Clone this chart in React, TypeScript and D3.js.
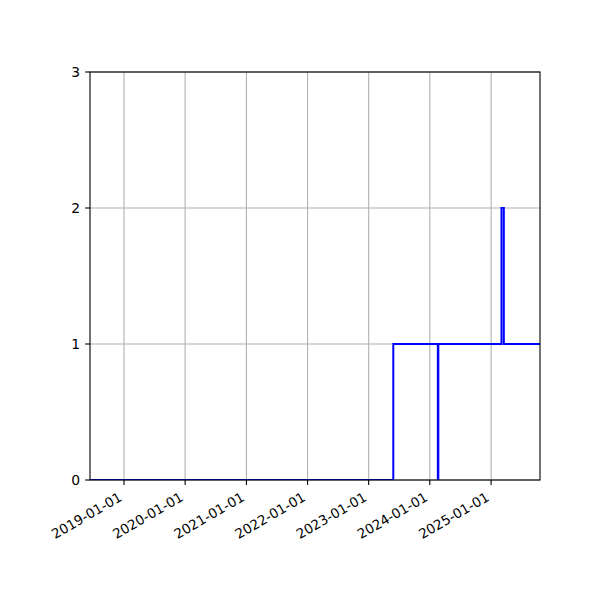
import React, { useEffect, useRef } from "react";
import * as d3 from "d3";

// step changes (value holds until the next date)
const stepDates = ["2018-06-12", "2023-05-28", "2024-02-18", "2024-02-21", "2025-03-04", "2025-03-18", "2025-10-20"];
const stepValues = [0, 1, 0, 1, 2, 1, 1];
const xDomain = ["2018-06-12", "2025-10-20"];
const xTicks = ["2019-01-01", "2020-01-01", "2021-01-01", "2022-01-01", "2023-01-01", "2024-01-01", "2025-01-01"];
const yTicks = [0, 1, 2, 3];

export default function App() {
  const ref = useRef<SVGSVGElement | null>(null);

  useEffect(() => {
    const width = 600, height = 600;
    const margin = { top: 72, right: 60, bottom: 120, left: 90 };
    const w = width - margin.left - margin.right;
    const h = height - margin.top - margin.bottom;
    const font = "'DejaVu Sans', sans-serif";

    const svg = d3.select(ref.current);
    svg.selectAll("*").remove();
    svg.attr("width", width).attr("height", height).attr("viewBox", `0 0 ${width} ${height}`);
    svg.append("rect").attr("width", width).attr("height", height).attr("fill", "#fff");

    const parse = d3.timeParse("%Y-%m-%d");
    const points = stepDates.map((d, i) => ({ date: parse(d) as Date, value: stepValues[i] }));

    const x = d3.scaleTime().domain(xDomain.map(d => parse(d) as Date)).range([0, w]);
    const y = d3.scaleLinear().domain([0, 3]).range([h, 0]);

    const g = svg.append("g").attr("transform", `translate(${margin.left},${margin.top})`);

    const clipId = "plot-clip";
    svg.append("defs").append("clipPath").attr("id", clipId)
      .append("rect").attr("x", 0).attr("y", 0).attr("width", w).attr("height", h);

    // grid
    xTicks.forEach(t => {
      const px = x(parse(t) as Date);
      g.append("line").attr("x1", px).attr("x2", px).attr("y1", 0).attr("y2", h)
        .attr("stroke", "#b0b0b0").attr("stroke-width", 1.1);
    });
    yTicks.forEach(t => {
      g.append("line").attr("x1", 0).attr("x2", w).attr("y1", y(t)).attr("y2", y(t))
        .attr("stroke", "#b0b0b0").attr("stroke-width", 1.1);
    });

    const line = d3.line<any>().x(d => x(d.date)).y(d => y(d.value)).curve(d3.curveStepAfter);
    g.append("path").datum(points).attr("d", line as any).attr("fill", "none")
      .attr("stroke", "#0000ff").attr("stroke-width", 2).attr("clip-path", `url(#${clipId})`);

    // spines
    g.append("rect").attr("x", 0).attr("y", 0).attr("width", w).attr("height", h)
      .attr("fill", "none").attr("stroke", "#000").attr("stroke-width", 1.1);

    // x ticks
    xTicks.forEach(t => {
      const px = x(parse(t) as Date);
      g.append("line").attr("x1", px).attr("x2", px).attr("y1", h).attr("y2", h + 4.9)
        .attr("stroke", "#000").attr("stroke-width", 1.1);
      g.append("text").attr("transform", `translate(${px - 1},${h + 20}) rotate(-30)`)
        .attr("text-anchor", "end").attr("font-family", font).attr("font-size", 13.5)
        .attr("fill", "#000").text(t);
    });

    // y ticks
    yTicks.forEach(t => {
      g.append("line").attr("x1", -4.9).attr("x2", 0).attr("y1", y(t)).attr("y2", y(t))
        .attr("stroke", "#000").attr("stroke-width", 1.1);
      g.append("text").attr("x", -9.8).attr("y", y(t)).attr("dy", "0.36em")
        .attr("text-anchor", "end").attr("font-family", font).attr("font-size", 13.9)
        .attr("fill", "#000").text(d3.format("d")(t));
    });
  }, []);

  return (
    <div style={{ position: "absolute", left: 0, top: 0, width: 600, height: 600 }}>
      <svg ref={ref} style={{ display: "block" }} />
    </div>
  );
}
